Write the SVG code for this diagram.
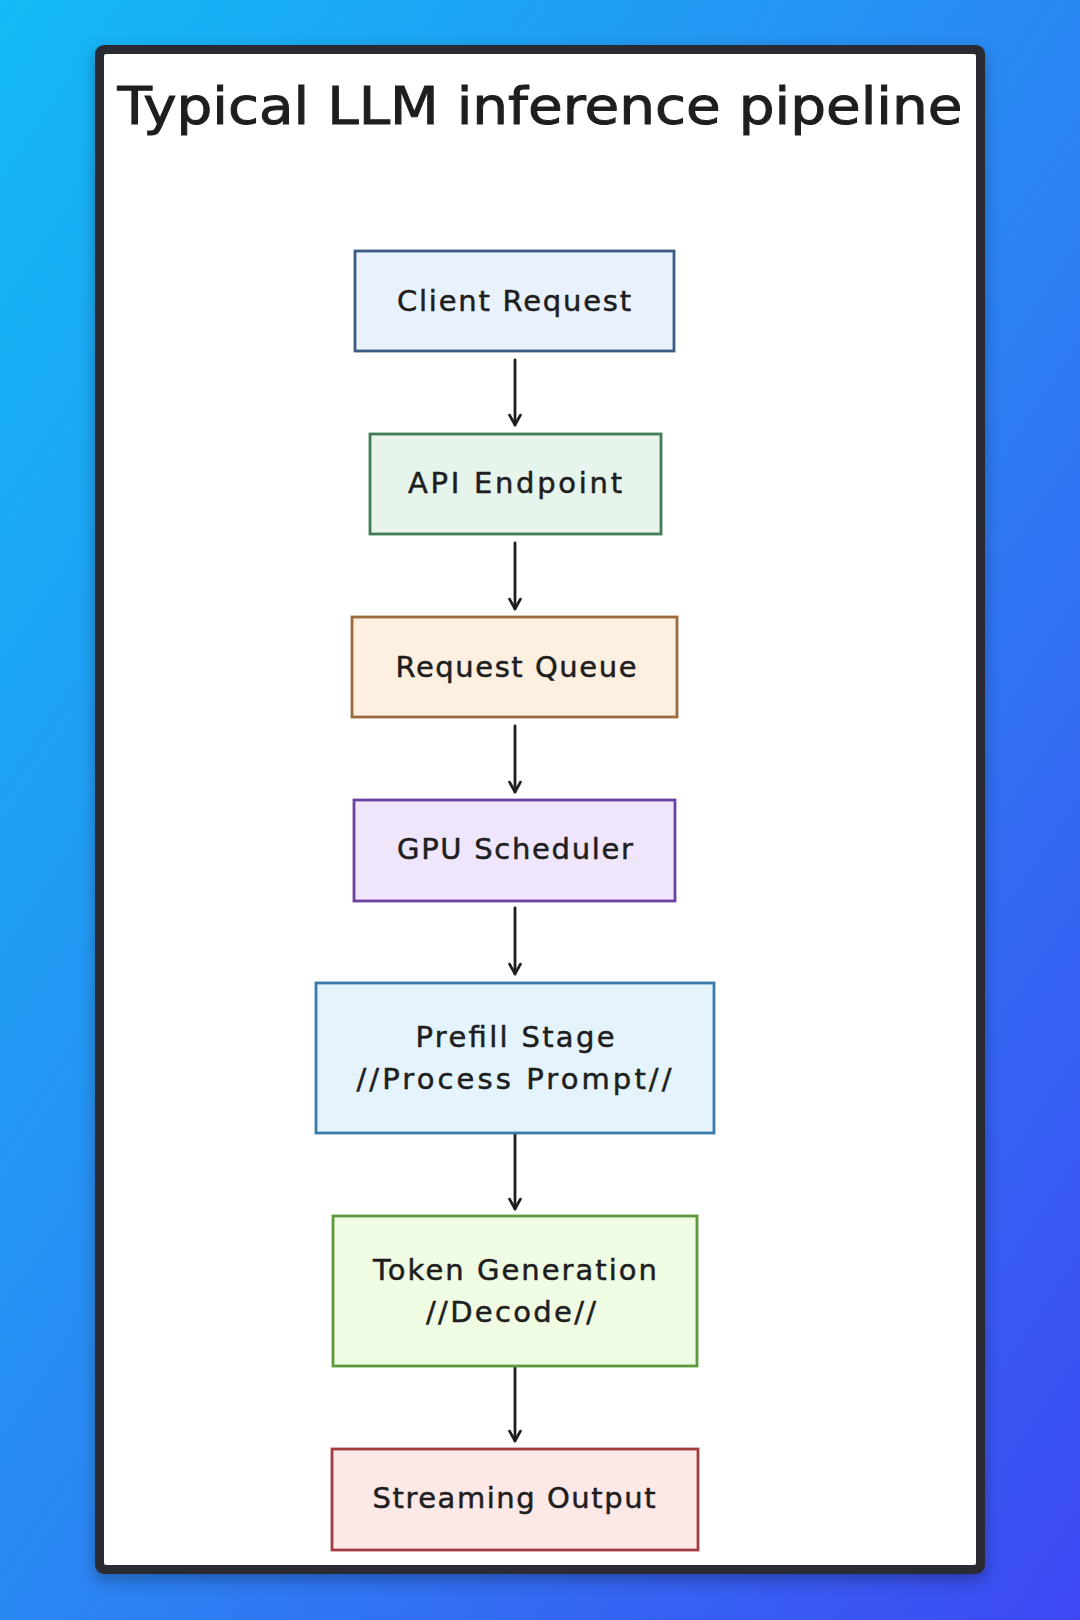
<svg xmlns="http://www.w3.org/2000/svg" width="1080" height="1620" viewBox="0 0 1080 1620">
  <defs>
    <linearGradient id="bg" x1="0" y1="0" x2="1" y2="1">
      <stop offset="0" stop-color="#13baf6"/>
      <stop offset="0.5" stop-color="#2a88f3"/>
      <stop offset="1" stop-color="#3d48f3"/>
    </linearGradient>
    <filter id="shadow" x="-10%" y="-10%" width="120%" height="120%">
      <feDropShadow dx="0" dy="6" stdDeviation="8" flood-color="#000" flood-opacity="0.3"/>
    </filter>
    <marker id="arrow" viewBox="0 0 14 14" refX="12.5" refY="7" markerWidth="14" markerHeight="14" markerUnits="userSpaceOnUse" orient="auto">
      <path d="M2.5 1.5 L12.5 7 L2.5 12.5" fill="none" stroke="#1e1e1e" stroke-width="2.6" stroke-linecap="round" stroke-linejoin="round"/>
    </marker>
    <style>
      .lbl { font-family: "DejaVu Sans", "Noto Sans", sans-serif; font-size: 29px; fill: #1e1e1e; stroke: #1e1e1e; stroke-width: 0.5; text-anchor: middle; dominant-baseline: central; }
      .title { font-family: "DejaVu Sans", "Noto Sans", sans-serif; font-size: 52px; fill: #1e1e1e; stroke: #1e1e1e; stroke-width: 1; text-anchor: middle; }
      .box { stroke-width: 2.8; }
      .conn { stroke: #1e1e1e; stroke-width: 2.8; fill: none; stroke-linecap: round; }
    </style>
  </defs>

  <rect x="0" y="0" width="1080" height="1620" fill="url(#bg)"/>

  <g id="frame">
    <rect x="95" y="45" width="890" height="1529" rx="9" ry="9" fill="#2b2c30" filter="url(#shadow)"/>
    <rect x="104" y="54" width="872" height="1511" rx="2" ry="2" fill="#ffffff"/>
  </g>

  <g id="title">
    <text class="title" x="540" y="124" textLength="845" lengthAdjust="spacingAndGlyphs">Typical LLM inference pipeline</text>
  </g>

  <g id="connectors">
    <line class="conn" x1="515" y1="360" x2="515" y2="425" marker-end="url(#arrow)"/>
    <line class="conn" x1="515" y1="543" x2="515" y2="609" marker-end="url(#arrow)"/>
    <line class="conn" x1="515" y1="726" x2="515" y2="792" marker-end="url(#arrow)"/>
    <line class="conn" x1="515" y1="908" x2="515" y2="974" marker-end="url(#arrow)"/>
    <line class="conn" x1="515" y1="1134" x2="515" y2="1209" marker-end="url(#arrow)"/>
    <line class="conn" x1="515" y1="1367" x2="515" y2="1441" marker-end="url(#arrow)"/>
  </g>

  <g id="client-request">
    <rect class="box" x="355" y="251" width="319" height="100" fill="#e8f1fc" stroke="#3b5b82"/>
    <text class="lbl" x="514" y="301" textLength="234">Client Request</text>
  </g>

  <g id="api-endpoint">
    <rect class="box" x="370" y="434" width="291" height="100" fill="#e6f4ec" stroke="#3f7c57"/>
    <text class="lbl" x="515" y="483" textLength="214">API Endpoint</text>
  </g>

  <g id="request-queue">
    <rect class="box" x="352" y="617" width="325" height="100" fill="#fdf0e1" stroke="#9a6a3c"/>
    <text class="lbl" x="516" y="667" textLength="241">Request Queue</text>
  </g>

  <g id="gpu-scheduler">
    <rect class="box" x="354" y="800" width="321" height="101" fill="#efe6fb" stroke="#6b42a3"/>
    <text class="lbl" x="515" y="849" textLength="236">GPU Scheduler</text>
  </g>

  <g id="prefill-stage">
    <rect class="box" x="316" y="983" width="398" height="150" fill="#e4f3fc" stroke="#3a79a9"/>
    <text class="lbl" x="515" y="1037" textLength="199">Prefill Stage</text>
    <text class="lbl" x="514" y="1079" textLength="315">//Process Prompt//</text>
  </g>

  <g id="token-generation">
    <rect class="box" x="333" y="1216" width="364" height="150" fill="#f0fbe3" stroke="#5a9a3c"/>
    <text class="lbl" x="515" y="1270" textLength="284">Token Generation</text>
    <text class="lbl" x="511" y="1312" textLength="170">//Decode//</text>
  </g>

  <g id="streaming-output">
    <rect class="box" x="332" y="1449" width="366" height="101" fill="#fde8e8" stroke="#a23c3e"/>
    <text class="lbl" x="514" y="1498" textLength="283">Streaming Output</text>
  </g>
</svg>
